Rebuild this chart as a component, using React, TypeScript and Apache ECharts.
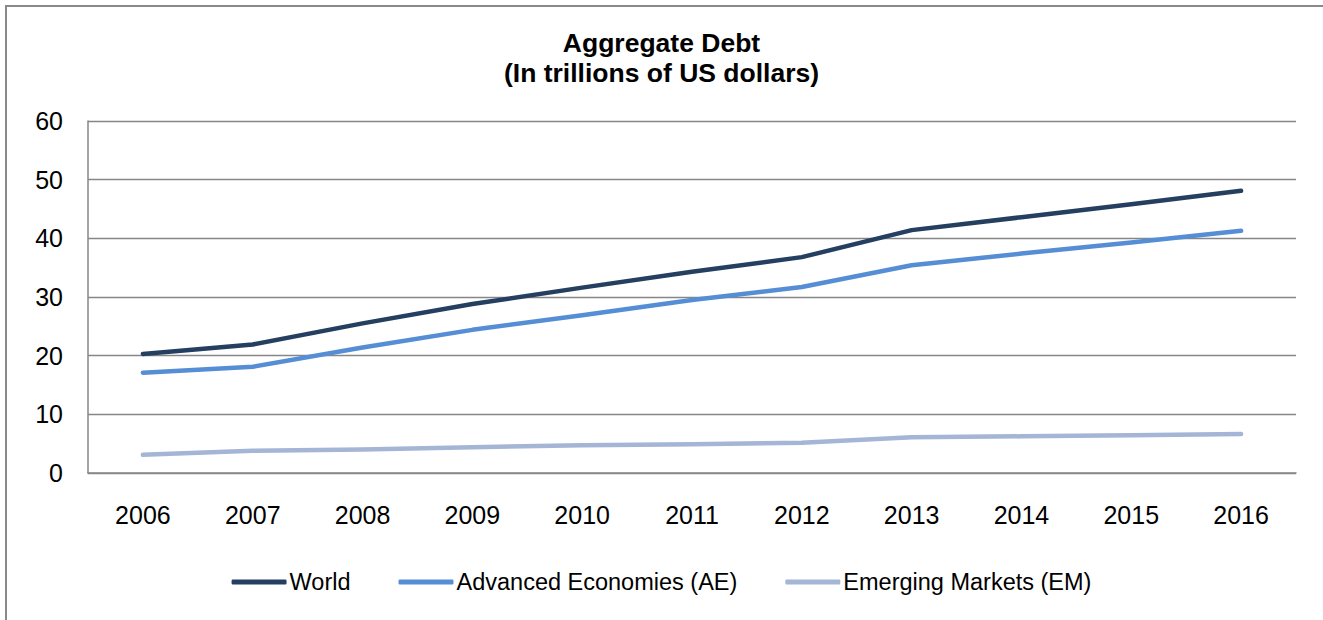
import React, { useEffect, useRef } from "react";
import * as echarts from "echarts";

const years = ["2006", "2007", "2008", "2009", "2010", "2011", "2012", "2013", "2014", "2015", "2016"];
const world = [20.3, 21.9, 25.5, 28.8, 31.6, 34.3, 36.8, 41.4, 43.6, 45.8, 48.1];
const advanced = [17.1, 18.1, 21.4, 24.4, 26.9, 29.5, 31.7, 35.4, 37.4, 39.3, 41.3];
const emerging = [3.1, 3.8, 4.0, 4.4, 4.75, 4.9, 5.15, 6.1, 6.25, 6.45, 6.65];
const seriesNames = ["World", "Advanced Economies (AE)", "Emerging Markets (EM)"];
const seriesColors = ["#243F60", "#558ED5", "#A5B5D5"];
const titleText = "Aggregate Debt\n(In trillions of US dollars)";

export default function App() {
  const ref = useRef<HTMLDivElement>(null);
  useEffect(() => {
    if (!ref.current) return;
    const chart = echarts.init(ref.current, undefined, { renderer: "svg" });
    const data = [world, advanced, emerging];
    chart.setOption({
      animation: false,
      backgroundColor: "#ffffff",
      title: {
        text: titleText,
        left: "center",
        top: 23,
        textStyle: {
          fontFamily: "Liberation Sans, Arial, sans-serif",
          fontWeight: "bold",
          fontSize: 26.5,
          lineHeight: 30,
          color: "#000000",
        },
      },
      graphic: [
        {
          type: "rect",
          shape: { x: 6, y: 6, width: 1400, height: 700 },
          style: { fill: "none", stroke: "#898989", lineWidth: 2 },
          silent: true,
        },
      ],
      legend: {
        left: "center",
        top: 565,
        icon: "roundRect",
        itemWidth: 55,
        itemHeight: 5,
        itemGap: 48,
        textStyle: {
          fontFamily: "Liberation Sans, Arial, sans-serif",
          fontSize: 23.5,
          color: "#000000",
          padding: [0, 0, 0, -2],
        },
        data: seriesNames,
      },
      grid: { left: 88, top: 121, right: 27, bottom: 147 },
      xAxis: {
        type: "category",
        data: years,
        boundaryGap: true,
        axisLine: { show: true, lineStyle: { color: "#868686", width: 1.5 } },
        axisTick: { show: false },
        axisLabel: {
          margin: 29,
          fontFamily: "Liberation Sans, Arial, sans-serif",
          fontSize: 25,
          color: "#000000",
        },
      },
      yAxis: {
        type: "value",
        min: 0,
        max: 60,
        interval: 10,
        axisLine: { show: true, lineStyle: { color: "#868686", width: 1.5 } },
        axisTick: { show: false },
        splitLine: { show: true, lineStyle: { color: "#868686", width: 1.3 } },
        axisLabel: {
          margin: 25,
          fontFamily: "Liberation Sans, Arial, sans-serif",
          fontSize: 25,
          color: "#000000",
        },
      },
      series: seriesNames.map((name, i) => ({
        name,
        type: "line",
        data: data[i],
        symbol: "none",
        showSymbol: false,
        color: seriesColors[i],
        itemStyle: { color: seriesColors[i] },
        lineStyle: { color: seriesColors[i], width: 4.5, cap: "round", join: "round" },
        z: 3 - i,
      })),
    });
    return () => chart.dispose();
  }, []);
  return (
    <div
      ref={ref}
      style={{ position: "fixed", left: 0, top: 0, width: 1323, height: 620 }}
    />
  );
}
